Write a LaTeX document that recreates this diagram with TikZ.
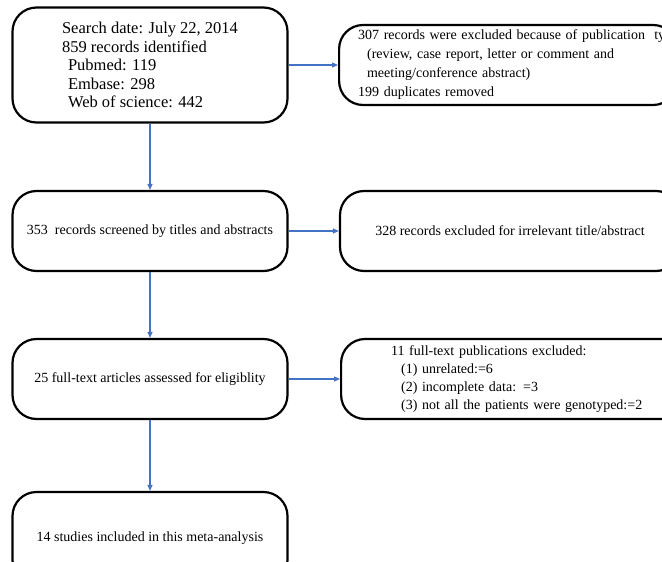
\documentclass[tikz,border=0pt]{standalone}
\usepackage{fontspec}
\setmainfont{Liberation Serif}
\usepackage{xcolor}
\usetikzlibrary{positioning,arrows.meta}
\definecolor{flowblue}{RGB}{68,114,196}

\begin{document}
\begin{tikzpicture}[
    x=1pt, y=-1pt,
    stage/.style={rectangle, draw, line width=2.2pt, rounded corners=24pt, minimum width=275pt, minimum height=80pt, align=center, font=\fontsize{14}{19}\selectfont},
    exclbox/.style={stage, anchor=west, align=left, minimum height=80pt},
    arrow/.style={-{Triangle[length=6pt,width=5pt]}, line width=1.1pt, draw=flowblue, fill=flowblue}
]
\useasboundingbox (0,0) rectangle (662,562);
\clip (0,0) rectangle (662,562);

% Left column - main flow
\node[stage, minimum height=115pt, align=left, font=\fontsize{16.5}{18.5}\selectfont] (search) at (150,65) {Search date: July 22, 2014\\
859 records identified\\
\hspace*{6pt}Pubmed: 119\\
\hspace*{6pt}Embase: 298\\
\hspace*{6pt}Web of science: 442};

\node[stage] (screen) at (150,231) {353\ \ records screened by titles and abstracts};

\node[stage] (fulltext) at (150,379) {25 full-text articles assessed for eligiblity};

\node[stage, minimum height=92pt] (included) at (150,538) {14 studies included in this meta-analysis};

% Right column - exclusions
\node[exclbox, text width=300pt, inner xsep=19pt] (duplicates) at (338,65) {\mbox{307 records were excluded because of publication\ \ type}\\
\hspace*{9pt}(review, case report, letter or comment and\\
\hspace*{9pt}meeting/conference abstract)\\
199 duplicates removed};

\node[stage, minimum width=340pt] (irrelevant) at (510,231) {328 records excluded for irrelevant title/abstract};

\node[exclbox, text width=290pt, inner xsep=50pt, font=\fontsize{14}{18}\selectfont] (excluded) at (340,379) {11 full-text publications excluded:\\
\hspace*{10pt}(1) unrelated:=6\\
\hspace*{10pt}(2) incomplete data: =3\\
\hspace*{10pt}(3) not all the patients were genotyped:=2};

% Connectors
\draw[arrow] (search) -- (screen);
\draw[arrow] (screen) -- (fulltext);
\draw[arrow] (fulltext) -- (included);
\draw[arrow] (search.east) -- (duplicates.west);
\draw[arrow] (screen.east) -- (irrelevant.west);
\draw[arrow] (fulltext.east) -- (excluded.west);

\end{tikzpicture}
\end{document}
